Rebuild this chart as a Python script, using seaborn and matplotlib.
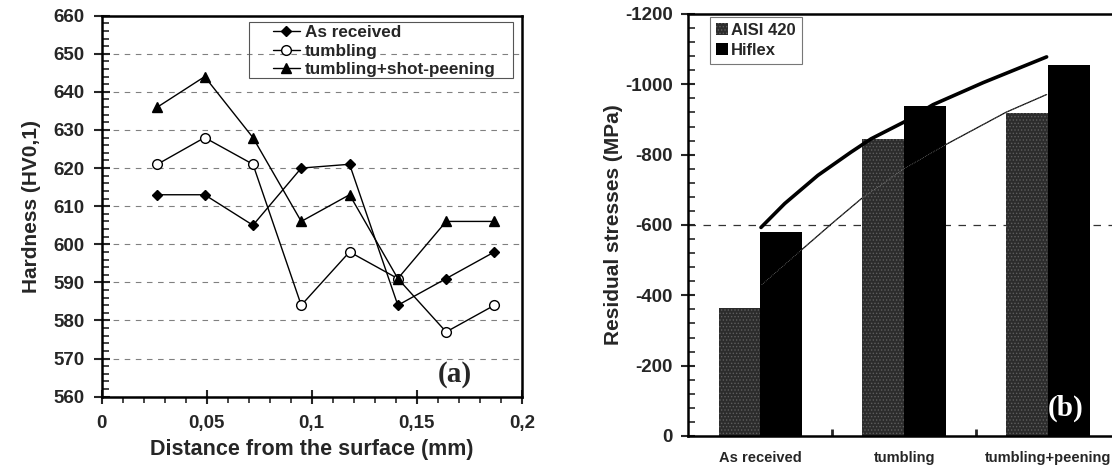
import numpy as np
import pandas as pd
import matplotlib
matplotlib.use("Agg")
import matplotlib.pyplot as plt
from matplotlib.patches import Rectangle
from matplotlib.ticker import MultipleLocator, FuncFormatter
import seaborn as sns

# --- (a) hardness profiles --------------------------------------------------
depth_mm = [0.0265, 0.049, 0.072, 0.095, 0.118, 0.141, 0.164, 0.187]
hv_as_received = [613, 613, 605, 620, 621, 584, 591, 598]
hv_tumbling = [621, 628, 621, 584, 598, 591, 577, 584]
hv_tumbling_shot = [636, 644, 628, 606, 613, 591, 606, 606]
hardness_labels = ["As received", "tumbling", "tumbling+shot-peening"]

# --- (b) residual stresses ----------------------------------------------------
conditions = ["As received", "tumbling", "tumbling+peening"]
materials = ["AISI 420", "Hiflex"]
stress_aisi420 = [-365, -845, -918]
stress_hiflex = [-580, -938, -1055]
ref_level = -600

# hand-drawn trend curves (x in category units)
upper_curve_x = [0.005, 0.17, 0.40, 0.63, 0.77, 1.0, 1.2, 1.55, 1.99]
upper_curve_y = [-593, -661, -741, -807, -845, -893, -942, -1005, -1078]
lower_curve_x = [0.01, 0.30, 0.50, 0.70, 1.0, 1.30, 1.71, 1.99]
lower_curve_y = [-430, -534, -605, -674, -760, -831, -921, -971]

sns.set_style("ticks")
plt.rcParams["font.family"] = ["Liberation Sans", "DejaVu Sans"]
plt.rcParams["font.weight"] = "bold"
plt.rcParams["axes.labelweight"] = "bold"
plt.rcParams["axes.unicode_minus"] = False
plt.rcParams["hatch.linewidth"] = 0.6

fig = plt.figure(figsize=(11.12, 4.65), dpi=100)
ax1 = fig.add_axes([0.0915, 0.1469, 0.3777, 0.8194])
ax2 = fig.add_axes([0.6190, 0.0624, 0.3882, 0.9075])

# ---------------------------------------------------------------------------
# (a)
styles = [dict(marker="D", ms=5, mfc="black"),
          dict(marker="o", ms=7, mfc="white"),
          dict(marker="^", ms=7.5, mfc="black")]
for label, vals, st in zip(hardness_labels,
                           [hv_as_received, hv_tumbling, hv_tumbling_shot], styles):
    sns.lineplot(x=depth_mm, y=vals, ax=ax1, color="black", lw=1.0, mec="black",
                 mew=1.0, label=label, sort=False, estimator=None, **st)

ax1.set_xlim(0, 0.2)
ax1.set_ylim(560, 660)
ax1.xaxis.set_major_locator(MultipleLocator(0.05))
ax1.xaxis.set_minor_locator(MultipleLocator(0.01))
ax1.yaxis.set_major_locator(MultipleLocator(10))
ax1.yaxis.set_minor_locator(MultipleLocator(2))
ax1.xaxis.set_major_formatter(FuncFormatter(lambda v, p: f"{v:g}".replace(".", ",")))
ax1.yaxis.grid(True, which="major", ls=(0, (5, 5)), color="#808080", lw=0.8)
ax1.tick_params(axis="x", which="major", direction="inout", length=10, width=1.5,
                pad=8, labelsize=13.5)
ax1.tick_params(axis="x", which="minor", direction="out", length=4, width=1.2)
ax1.tick_params(axis="y", which="major", direction="inout", length=11, width=1.5,
                pad=7, labelsize=13.5)
ax1.tick_params(axis="y", which="minor", direction="in", length=5, width=1.2)
ax1.set_xlabel("Distance from the surface (mm)", fontsize=15.5, labelpad=5)
ax1.set_ylabel("Hardness (HV0,1)", fontsize=15, labelpad=9)

ax1.legend(loc="upper left", bbox_to_anchor=(0.407, 0.975), frameon=False,
           borderpad=0, borderaxespad=0, handlelength=1.6, handletextpad=0.3,
           labelspacing=0.2, prop=dict(weight="bold", size=12.3))
ax1.add_patch(Rectangle((0.351, 0.836), 0.628, 0.148, transform=ax1.transAxes,
                        fill=False, ec="#555555", lw=0.8, zorder=5))
ax1.text(0.841, 0.058, "(a)", transform=ax1.transAxes, ha="center", va="center",
         fontsize=21, fontweight="bold", family="Liberation Serif")

# ---------------------------------------------------------------------------
# (b)
df = pd.DataFrame({
    "condition": conditions * 2,
    "material": [materials[0]] * 3 + [materials[1]] * 3,
    "stress": stress_aisi420 + stress_hiflex,
})
sns.barplot(data=df, x="condition", y="stress", hue="material", ax=ax2,
            palette=["#2c2c2c", "black"], width=0.58, gap=0, saturation=1,
            legend=False)
for bar in ax2.containers[0]:
    bar.set_hatch(".....")
    bar.set_edgecolor("#5e5e5e")
    bar.set_linewidth(0)
for bar in ax2.containers[1]:
    bar.set_edgecolor("black")
    bar.set_linewidth(0)

ax2.axhline(ref_level, ls=(0, (6, 6)), color="#333333", lw=0.9, zorder=0.5)
sns.lineplot(x=lower_curve_x, y=lower_curve_y, ax=ax2, color="black", lw=0.9,
             sort=False, estimator=None, zorder=0.8)
sns.lineplot(x=lower_curve_x, y=lower_curve_y, ax=ax2, color="#9a9a9a", lw=0.5,
             ls=":", sort=False, estimator=None, zorder=3)
sns.lineplot(x=upper_curve_x, y=upper_curve_y, ax=ax2, color="black", lw=2.6,
             sort=False, estimator=None, zorder=4)

ax2.set_xlim(-0.5, 2.5)
ax2.set_ylim(0, -1200)
ax2.yaxis.set_major_locator(MultipleLocator(200))
ax2.yaxis.set_minor_locator(MultipleLocator(40))
ax2.set_xticks([0, 1, 2])
ax2.set_xticklabels(conditions)
ax2.set_xticks([0.5, 1.5], minor=True)
ax2.tick_params(axis="x", which="major", length=0, pad=11, labelsize=10.5)
ax2.tick_params(axis="x", which="minor", direction="in", length=5, width=2)
ax2.tick_params(axis="y", which="major", direction="inout", length=10, width=1.5,
                pad=6, labelsize=13.5)
ax2.tick_params(axis="y", which="minor", direction="in", length=5, width=1.2)
ax2.set_xlabel("")
ax2.set_ylabel("Residual stresses (MPa)", fontsize=15, labelpad=2)

leg = ax2.legend(handles=[ax2.containers[0], ax2.containers[1]], labels=materials,
                 loc="upper left", bbox_to_anchor=(0.051, 0.993), borderaxespad=0,
                 borderpad=0.35, handlelength=0.7, handleheight=0.7,
                 handletextpad=0.2, labelspacing=0.3, fancybox=False,
                 prop=dict(weight="bold", size=12))
leg.get_frame().set_edgecolor("#555555")
leg.get_frame().set_linewidth(0.8)
ax2.text(0.875, 0.066, "(b)", transform=ax2.transAxes, ha="center", va="center",
         fontsize=21, fontweight="bold", family="Liberation Serif", color="white",
         zorder=6)

for ax in (ax1, ax2):
    for sp in ax.spines.values():
        sp.set_linewidth(1.8)
        sp.set_color("black")

fig.savefig("out.png", dpi=100)
